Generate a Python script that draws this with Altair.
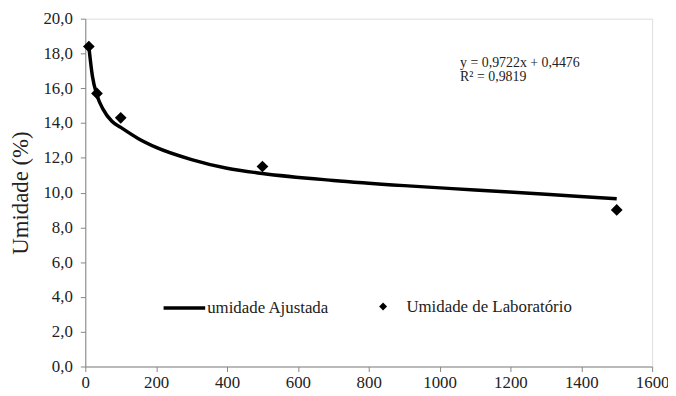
import altair as alt
import pandas as pd

# Laboratory measurements
lab_x = [10, 33, 100, 500, 1500]
lab_y = [18.4, 15.7, 14.3, 11.5, 9.0]

# Fitted curve
fit_x = [10, 20, 33, 50, 75, 100, 150, 200, 300, 400, 500, 700, 900, 1100, 1300, 1500]
fit_y = [18.4, 16.7, 15.6, 14.8, 14.1, 13.75, 13.1, 12.6, 11.9, 11.4, 11.1, 10.7, 10.4, 10.15, 9.9, 9.65]

ann_text = ["y = 0,9722x + 0,4476", "R² = 0,9819"]
ann_x = [1058, 1058]
ann_y = [17.45, 16.65]

x_ticks = list(range(0, 1601, 200))
y_ticks = list(range(0, 21, 2))

lab_name = "Umidade de Laboratório"
fit_name = "umidade Ajustada"

FONT = "Liberation Serif"

lab_df = pd.DataFrame({"x": lab_x, "y": lab_y, "s": lab_name})
fit_df = pd.DataFrame({"x": fit_x, "y": fit_y, "s": fit_name})
ann_df = pd.DataFrame({"x": ann_x, "y": ann_y, "t": ann_text})

xscale = alt.Scale(domain=[0, 1600], nice=False, zero=True)
yscale = alt.Scale(domain=[0, 20], nice=False)

xaxis = alt.Axis(values=x_ticks, grid=False, title=None, format="d",
                 domainColor="#868686", tickColor="#868686", tickSize=5,
                 labelFont=FONT, labelFontSize=17, labelColor="#222222",
                 labelPadding=3, labelFlush=False, labelOverlap=False)
yaxis = alt.Axis(values=y_ticks, grid=False, title="Umidade (%)",
                 domainColor="#868686", tickColor="#868686", tickSize=5,
                 labelFont=FONT, labelFontSize=17, labelColor="#222222",
                 labelPadding=8, labelOverlap=False,
                 labelExpr="replace(format(datum.value, '.1f'), '.', ',')",
                 titleFont=FONT, titleFontSize=23, titleFontWeight="normal",
                 titleColor="#222222", titlePadding=11)

X = alt.X("x:Q", scale=xscale, axis=xaxis)
Y = alt.Y("y:Q", scale=yscale, axis=yaxis)

line = alt.Chart(fit_df).mark_line(interpolate="monotone", strokeWidth=3.5).encode(
    x=X,
    y=Y,
    color=alt.Color("s:N", scale=alt.Scale(domain=[fit_name], range=["black"]),
                    legend=alt.Legend(orient="none", legendX=77, legendY=269, title=None,
                                      symbolType="stroke", symbolSize=1764,
                                      symbolStrokeWidth=3.5, labelOffset=0, padding=0,
                                      labelFont=FONT, labelFontSize=17,
                                      labelColor="#222222", labelLimit=400)),
)

points = alt.Chart(lab_df).mark_point(filled=True, size=140, color="black", opacity=1).encode(
    x=X,
    y=Y,
    shape=alt.Shape("s:N", scale=alt.Scale(domain=[lab_name], range=["diamond"]),
                    legend=alt.Legend(orient="none", legendX=292, legendY=282, title=None,
                                      symbolSize=64, symbolFillColor="black",
                                      symbolStrokeWidth=0, labelOffset=15, padding=0,
                                      labelFont=FONT, labelFontSize=17,
                                      labelColor="#222222", labelLimit=400)),
)

ann = alt.Chart(ann_df).mark_text(align="left", baseline="middle", font=FONT,
                                  fontSize=14, color="#222222").encode(
    x=X, y=Y, text="t:N"
)

chart = alt.layer(line, points, ann).resolve_scale(color="independent", shape="independent").properties(
    width=572, height=351,
    autosize=alt.AutoSizeParams(type="none"),
    padding={"left": 78, "top": 9, "right": 16, "bottom": 28},
).configure_view(stroke=None).configure(
    background="white", font=FONT
).configure_axis(labelFont=FONT, titleFont=FONT).configure_legend(labelFont=FONT)

chart.save("out.html", embed_options={"renderer": "svg", "actions": False})
